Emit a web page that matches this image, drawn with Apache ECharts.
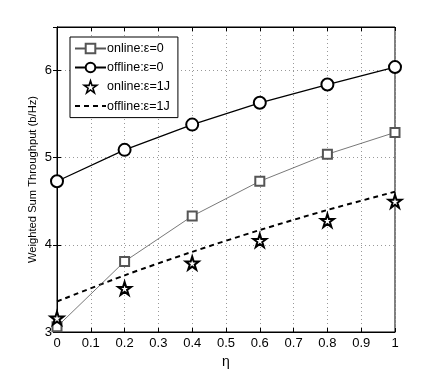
<!DOCTYPE html>
<html>
<head>
<meta charset="utf-8">
<script src="https://cdn.jsdelivr.net/npm/echarts@6/dist/echarts.min.js"></script>
<style>
html,body{margin:0;padding:0;background:#fff;}
#main{width:436px;height:374px;}
</style>
</head>
<body>
<div id="main"></div>
<script>
var eta = [0, 0.2, 0.4, 0.6, 0.8, 1];
var onlineEps0 = [3.06, 3.81, 4.33, 4.73, 5.04, 5.29];
var offlineEps0 = [4.73, 5.09, 5.38, 5.63, 5.84, 6.04];
var onlineEps1J = [3.16, 3.50, 3.79, 4.05, 4.28, 4.50];
var offlineEps1J = [3.35, 3.65, 3.92, 4.17, 4.40, 4.61];
var seriesNames = ['online:ε=0', 'offline:ε=0', 'online:ε=1J', 'offline:ε=1J'];

// five-point star
var starShape = 'M0,-10 L2.245,-3.09 L9.51,-3.09 L3.633,1.18 L5.88,8.09 L0,3.82 L-5.88,8.09 L-3.633,1.18 L-9.51,-3.09 L-2.245,-3.09 Z';
var font = '"Liberation Sans", Arial, sans-serif';

function pairs(ys) {
  return eta.map(function (x, i) { return [x, ys[i]]; });
}

var myChart = echarts.init(document.getElementById('main'));
var option = {
  animation: false,
  backgroundColor: '#fff',
  textStyle: { fontFamily: font },
  grid: { left: 57, right: 41, top: 27, bottom: 41, show: true, borderColor: '#000', borderWidth: 1 },
  legend: {
    data: [
      { name: seriesNames[0] },
      { name: seriesNames[1] },
      { name: seriesNames[2], icon: 'path://' + starShape,
        itemStyle: { color: '#fff', borderColor: '#000', borderWidth: 1.6 } },
      { name: seriesNames[3], itemStyle: { opacity: 0 } }
    ],
    orient: 'vertical',
    left: 70,
    top: 37,
    itemWidth: 31,
    itemHeight: 12,
    itemGap: 6,
    padding: [5, 8, 5, 4],
    borderColor: '#000',
    borderWidth: 1,
    backgroundColor: '#fff',
    textStyle: { fontFamily: font, fontSize: 12.5, color: '#000', padding: [0, 0, 0, -4] }
  },
  xAxis: [{
    type: 'value', min: 0, max: 1, interval: 0.1,
    name: 'η', nameLocation: 'middle', nameGap: 23,
    nameTextStyle: { fontSize: 14, color: '#000', fontFamily: font },
    axisLine: { show: true, lineStyle: { color: '#000' } },
    axisTick: { show: true, inside: true, length: 4, lineStyle: { color: '#000' } },
    axisLabel: { color: '#000', fontSize: 13, margin: 5, fontFamily: font,
      formatter: function (v) { return String(Math.round(v * 10) / 10); } },
    splitLine: { show: true, lineStyle: { color: '#999', type: [1, 3], width: 1 } }
  }, {
    type: 'value', min: 0, max: 1, interval: 0.1, position: 'top',
    axisLine: { show: true, lineStyle: { color: '#000' } },
    axisTick: { show: true, inside: true, length: 4, lineStyle: { color: '#000' } },
    axisLabel: { show: false }, splitLine: { show: false }
  }],
  yAxis: [{
    type: 'value', min: 3, max: 6.5, interval: 1,
    name: 'Weighted Sum Throughput (b/Hz)', nameLocation: 'middle', nameGap: 19,
    nameMoveOverlap: false,
    nameTextStyle: { fontSize: 11.2, color: '#000', fontFamily: font },
    axisLine: { show: true, lineStyle: { color: '#000' } },
    axisTick: { show: true, inside: true, length: 4, lineStyle: { color: '#000' } },
    axisLabel: { color: '#000', fontSize: 13, margin: 5, fontFamily: font, showMaxLabel: false },
    splitLine: { show: true, lineStyle: { color: '#999', type: [1, 3], width: 1 } }
  }, {
    type: 'value', min: 3, max: 6.5, interval: 1, position: 'right',
    axisLine: { show: true, lineStyle: { color: '#000' } },
    axisTick: { show: true, inside: true, length: 4, lineStyle: { color: '#000' } },
    axisLabel: { show: false }, splitLine: { show: false }
  }],
  series: [{
    name: seriesNames[0], type: 'line', data: pairs(onlineEps0),
    symbol: 'emptyRect', symbolSize: 9,
    lineStyle: { color: '#555', width: 0.8 },
    itemStyle: { color: '#555', borderWidth: 1 },
    z: 3
  }, {
    name: seriesNames[1], type: 'line', data: pairs(offlineEps0),
    symbol: 'emptyCircle', symbolSize: 12,
    lineStyle: { color: '#000', width: 1.3 },
    itemStyle: { color: '#000', borderWidth: 1.2 },
    z: 3
  }, {
    name: seriesNames[2], type: 'line', data: pairs(onlineEps1J),
    symbol: 'emptyPath://' + starShape, symbolSize: 13,
    lineStyle: { width: 0, opacity: 0 },
    itemStyle: { color: '#000', borderWidth: 1.6 },
    z: 4
  }, {
    name: seriesNames[3], type: 'line', data: pairs(offlineEps1J),
    symbol: 'none', smooth: 0.3,
    lineStyle: { color: '#000', width: 2, type: [5, 4] },
    itemStyle: { color: '#000' },
    z: 2
  }]
};
myChart.setOption(option);
</script>
</body>
</html>
